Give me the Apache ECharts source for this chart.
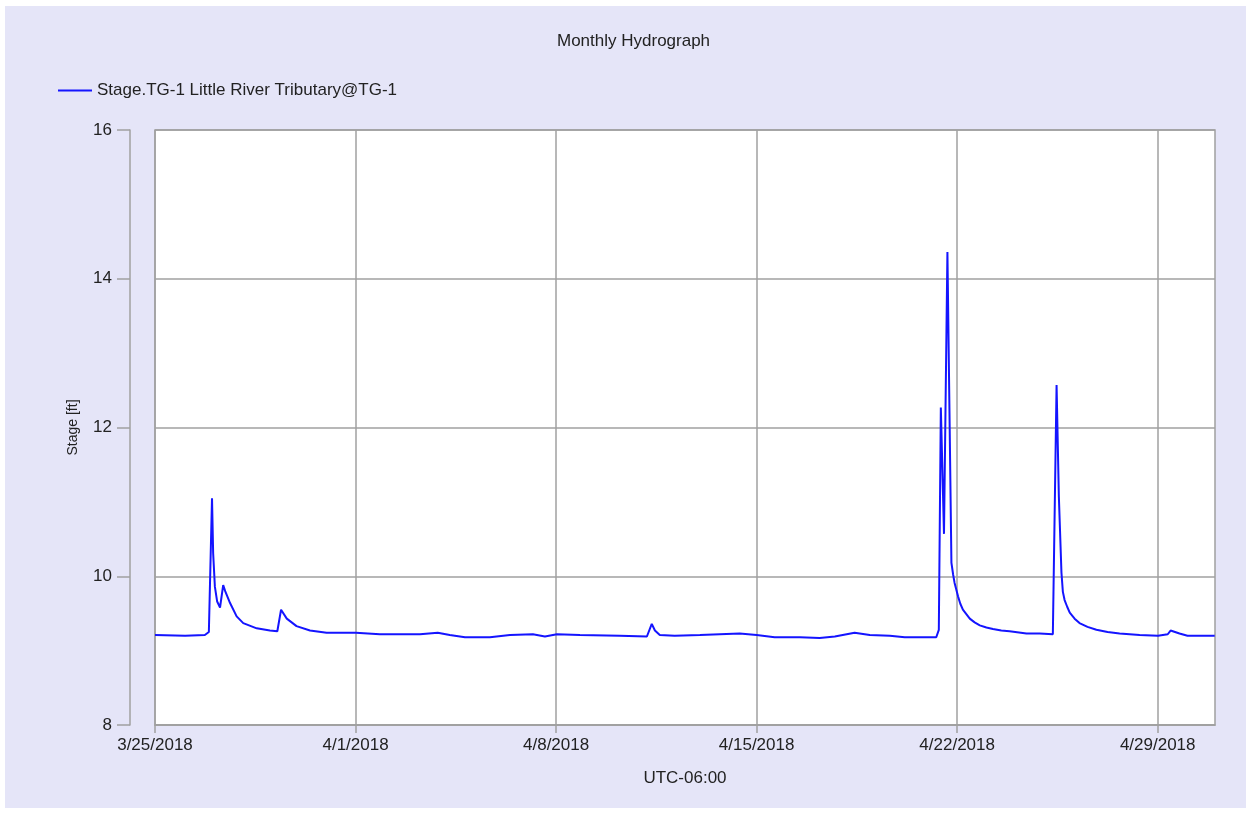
<!DOCTYPE html>
<html>
<head>
<meta charset="utf-8">
<title>Monthly Hydrograph</title>
<style>
  html, body { margin: 0; padding: 0; width: 100%; height: 100%; background: #fff; }
  #main { position: absolute; left: 5px; top: 6px; width: 1241px; height: 802px; }
</style>
</head>
<body>
<div id="main"></div>
<script src="https://cdn.jsdelivr.net/npm/echarts@6/dist/echarts.min.js"></script>
<script>
// days since 3/25/2018 00:00 (UTC-06:00)
var dayOffsets = [
  0, 1.05, 1.74, 1.88, 1.99, 2.03, 2.09, 2.17, 2.27, 2.38, 2.45, 2.62, 2.85, 3.08, 3.55, 4.01, 4.27,
  4.40, 4.60, 4.94, 5.41, 5.99, 7.01, 7.85, 9.25, 9.87, 10.29, 10.82, 11.69, 12.39,
  13.19, 13.61, 14.03, 14.83, 16.22, 17.17, 17.34, 17.45, 17.62, 18.14, 19.02, 20.41, 21.0,
  21.63, 22.51, 23.20, 23.73, 24.42, 24.95, 25.65, 26.17, 27.27, 27.36, 27.43, 27.54, 27.66,
  27.80, 27.86, 27.91, 28.03, 28.11, 28.20, 28.32, 28.44, 28.61, 28.79, 29.02, 29.25, 29.54,
  29.83, 30.42, 30.88, 31.34, 31.40, 31.47,
  31.55, 31.64, 31.69, 31.75, 31.84, 31.93, 32.10, 32.27, 32.55, 32.86, 33.25, 33.67, 34.37,
  35.01, 35.35, 35.45, 35.76, 36.04, 36.99
];
// stage [ft]
var stageValues = [
  9.21, 9.20, 9.21, 9.25, 11.05, 10.31, 9.86, 9.66, 9.58, 9.88, 9.80, 9.64, 9.46, 9.37, 9.30, 9.27, 9.26,
  9.55, 9.43, 9.33, 9.27, 9.24, 9.24, 9.22, 9.22, 9.24, 9.21, 9.18, 9.18, 9.21,
  9.22, 9.19, 9.22, 9.21, 9.20, 9.19, 9.36, 9.27, 9.21, 9.20, 9.21, 9.23, 9.21,
  9.18, 9.18, 9.17, 9.19, 9.24, 9.21, 9.20, 9.18, 9.18, 9.28, 12.27, 10.57, 14.36,
  10.18, 10.02, 9.91, 9.73, 9.63, 9.55, 9.49, 9.43, 9.38, 9.34, 9.31, 9.29, 9.27,
  9.26, 9.23, 9.23, 9.22, 9.24, 12.57,
  11.07, 10.05, 9.79, 9.68, 9.59, 9.51, 9.43, 9.37, 9.32, 9.28, 9.25, 9.23, 9.21,
  9.20, 9.22, 9.27, 9.23, 9.20, 9.20
];
var xTickLabels = ['3/25/2018', '4/1/2018', '4/8/2018', '4/15/2018', '4/22/2018', '4/29/2018'];
var yTicks = [8, 10, 12, 14, 16];

var seriesData = dayOffsets.map(function (d, i) { return [d, stageValues[i]]; });
var tickDays = xTickLabels.map(function (l, i) { return i * 7; });

var gray = '#a0a0a0';
var textColor = '#222';
var font = 'Liberation Sans, Arial, sans-serif';

var myChart = echarts.init(document.getElementById('main'));
myChart.setOption({
  backgroundColor: '#e5e5f8',
  animation: false,
  title: {
    text: 'Monthly Hydrograph',
    left: 547,
    top: 22,
    textStyle: { fontSize: 17, fontWeight: 'normal', color: textColor, fontFamily: font }
  },
  legend: {
    left: 48,
    top: 71,
    icon: 'rect',
    itemWidth: 34,
    itemHeight: 2,
    itemGap: 8,
    textStyle: { fontSize: 17, color: textColor, fontFamily: font },
    data: ['Stage.TG-1 Little River Tributary@TG-1']
  },
  grid: {
    left: 150, top: 124, right: 31, bottom: 83,
    show: true,
    backgroundColor: '#fff',
    borderColor: gray,
    borderWidth: 1.5
  },
  xAxis: {
    type: 'value',
    min: 0,
    max: 37,
    interval: 7,
    name: 'UTC-06:00',
    nameLocation: 'middle',
    nameGap: 45,
    nameTextStyle: { fontSize: 17, color: textColor, fontFamily: font },
    axisLine: { show: true, onZero: false, lineStyle: { color: gray, width: 1.5 } },
    axisTick: { show: true, length: 8, customValues: tickDays, lineStyle: { color: gray, width: 1.5 } },
    axisLabel: {
      margin: 12,
      fontSize: 17,
      color: textColor,
      fontFamily: font,
      customValues: tickDays,
      formatter: function (v) { return xTickLabels[Math.round(v / 7)] || ''; }
    },
    splitLine: { show: true, lineStyle: { color: gray, width: 1.5 } }
  },
  yAxis: {
    type: 'value',
    min: yTicks[0],
    max: yTicks[yTicks.length - 1],
    interval: 2,
    offset: 25,
    name: 'Stage [ft]',
    nameLocation: 'middle',
    nameGap: 50,
    nameTextStyle: { fontSize: 14, color: textColor, fontFamily: font },
    axisLine: { show: true, onZero: false, lineStyle: { color: gray, width: 1.5 } },
    axisTick: { show: true, length: 13, lineStyle: { color: gray, width: 1.5 } },
    axisLabel: { margin: 18, fontSize: 17, color: textColor, fontFamily: font },
    splitLine: { show: true, lineStyle: { color: gray, width: 1.5 } }
  },
  series: [{
    name: 'Stage.TG-1 Little River Tributary@TG-1',
    type: 'line',
    data: seriesData,
    showSymbol: false,
    symbol: 'none',
    color: '#1414ff',
    lineStyle: { color: '#1414ff', width: 2 },
    clip: true
  }]
});
</script>
</body>
</html>
